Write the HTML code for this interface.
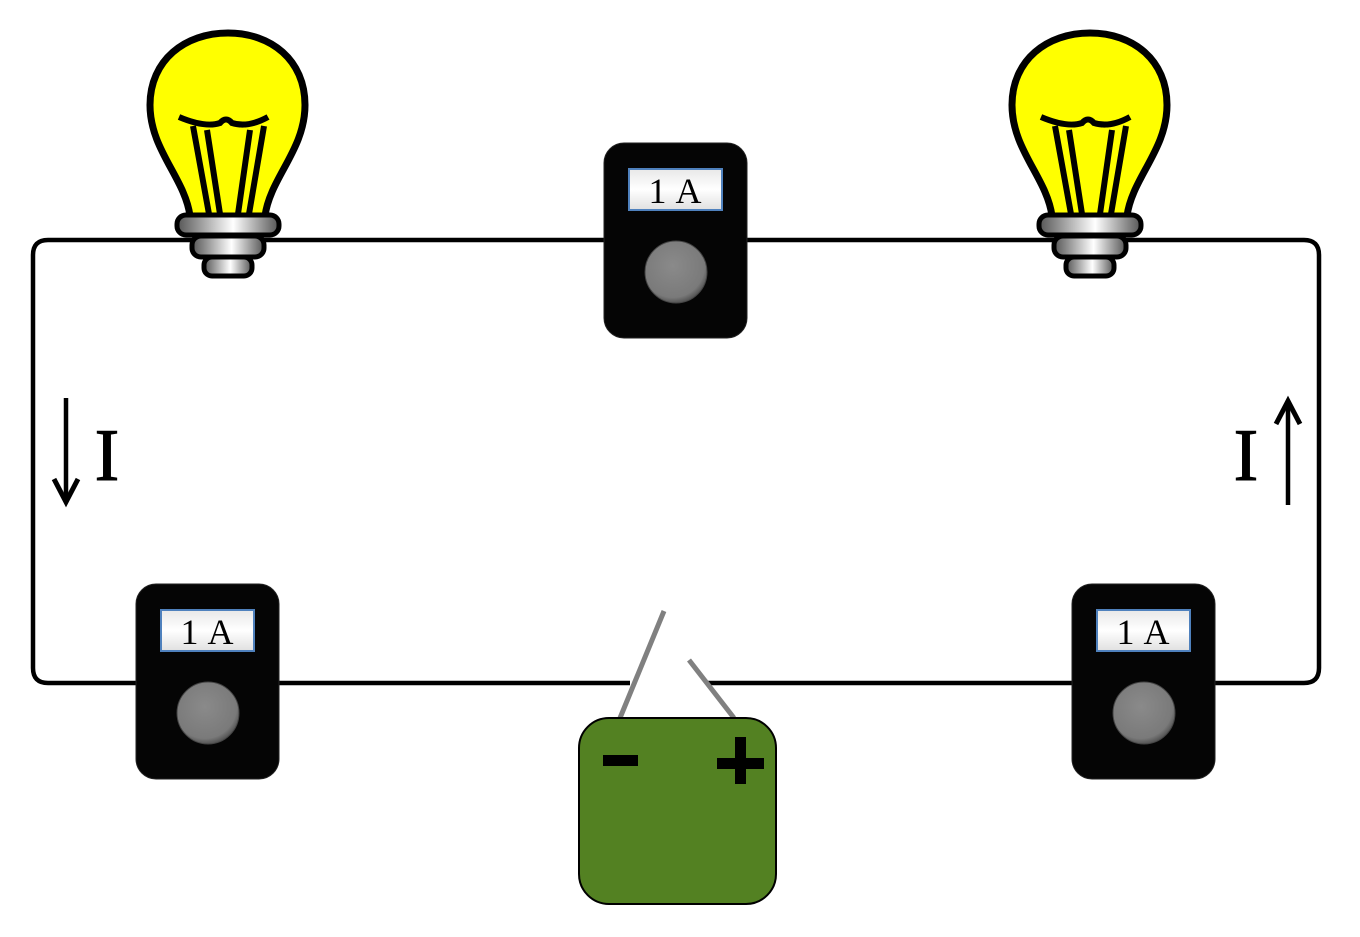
<!DOCTYPE html>
<html><head><meta charset="utf-8"><style>html,body{margin:0;padding:0;background:#fff}svg{display:block}</style></head>
<body>
<svg width="1360" height="937" viewBox="0 0 1360 937" xmlns="http://www.w3.org/2000/svg">
<defs>
<linearGradient id="metal" x1="0" x2="1" y1="0" y2="0">
<stop offset="0" stop-color="#555"/><stop offset="0.55" stop-color="#fff"/><stop offset="1" stop-color="#555"/>
</linearGradient>
<radialGradient id="knob" cx="0.45" cy="0.4" r="0.6">
<stop offset="0" stop-color="#8a8a8a"/><stop offset="0.85" stop-color="#7a7a7a"/><stop offset="1" stop-color="#555"/>
</radialGradient>
<linearGradient id="disp" x1="0" x2="0" y1="0" y2="1">
<stop offset="0" stop-color="#e8e8e8"/><stop offset="0.5" stop-color="#fff"/><stop offset="1" stop-color="#e0e0e0"/>
</linearGradient>
<g id="bulb">
<path d="M190,216 C185,178 150,150 150,105 C150,60 185,33 228,33 C271,33 305,60 305,105 C305,150 270,178 265,216 Z" fill="#ffff00" stroke="#000" stroke-width="7"/>
<path d="M179,117 Q205,128 220,123 Q226,116 232,123 Q248,128 268,117" fill="none" stroke="#000" stroke-width="6"/>
<path d="M193,126 L209,214 M207,130 L220,214 M250,130 L238,214 M264,126 L249,214" fill="none" stroke="#000" stroke-width="6"/>
<rect x="177" y="215" width="102" height="20" rx="9" fill="url(#metal)" stroke="#000" stroke-width="5"/>
<rect x="192" y="236" width="72" height="21" rx="9" fill="url(#metal)" stroke="#000" stroke-width="5"/>
<rect x="204" y="257" width="48" height="19" rx="8" fill="url(#metal)" stroke="#000" stroke-width="5"/>
</g>
<g id="meter">
<rect x="0" y="0" width="143" height="195" rx="20" fill="#050505" stroke="#222" stroke-width="1"/>
<rect x="25" y="26" width="93" height="41" fill="url(#disp)" stroke="#4f81bd" stroke-width="2"/>
<text x="71.5" y="60" text-anchor="middle" font-family="Liberation Serif, serif" font-size="36" letter-spacing="1" fill="#000">1 A</text>
<circle cx="72" cy="129" r="31" fill="url(#knob)" stroke="#444" stroke-width="1"/>
</g>
</defs>
<path d="M630,683 L48,683 Q33,683 33,668 L33,255 Q33,240 48,240 L1304,240 Q1319,240 1319,255 L1319,668 Q1319,683 1304,683 L708,683" fill="none" stroke="#000" stroke-width="4.5"/>
<use href="#bulb"/>
<use href="#bulb" transform="translate(862,0)"/>
<use href="#meter" transform="translate(604,143)"/>
<use href="#meter" transform="translate(136,584)"/>
<use href="#meter" transform="translate(1072,584)"/>
<line x1="664" y1="611" x2="620" y2="718" stroke="#808080" stroke-width="5"/>
<line x1="689" y1="660" x2="734" y2="718" stroke="#808080" stroke-width="5"/>
<rect x="579" y="718" width="197" height="186" rx="30" fill="#538122" stroke="#000" stroke-width="2"/>
<rect x="603" y="755" width="35" height="11" fill="#000"/>
<rect x="717" y="758" width="47" height="11" fill="#000"/>
<rect x="735" y="737" width="11" height="47" fill="#000"/>
<line x1="66" y1="398" x2="66" y2="500" stroke="#000" stroke-width="4.5"/>
<path d="M54,479 L66,502 L78,479" fill="none" stroke="#000" stroke-width="5"/>
<text x="107" y="480" text-anchor="middle" font-family="Liberation Serif, serif" font-size="74" stroke="#000" stroke-width="1" fill="#000">I</text>
<line x1="1288" y1="402" x2="1288" y2="505" stroke="#000" stroke-width="4.5"/>
<path d="M1276,424 L1288,401 L1300,424" fill="none" stroke="#000" stroke-width="5"/>
<text x="1246" y="480" text-anchor="middle" font-family="Liberation Serif, serif" font-size="74" stroke="#000" stroke-width="1" fill="#000">I</text>
</svg>
</body></html>
